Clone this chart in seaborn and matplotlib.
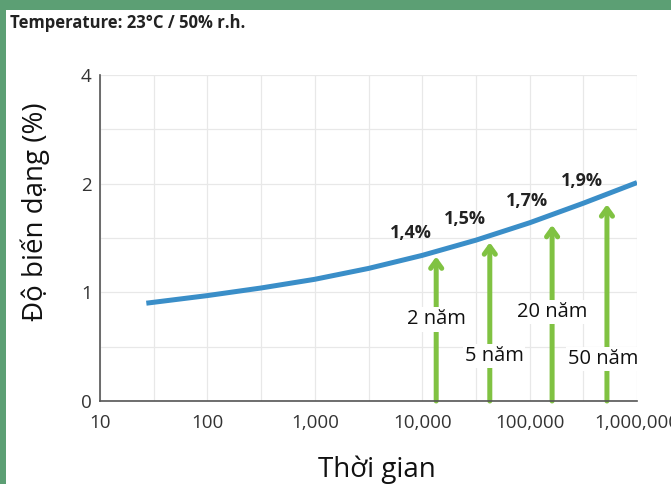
import numpy as np
import matplotlib
matplotlib.use('Agg')
import matplotlib.pyplot as plt
from matplotlib.patches import Rectangle
from matplotlib.ticker import FixedLocator, FuncFormatter
import seaborn as sns

# Du lieu doc tu hinh
thoi_gian = [27, 100, 316, 1000, 3162, 10000, 31623, 100000, 316228, 1000000]
bien_dang = [0.90, 0.97, 1.04, 1.12, 1.22, 1.34, 1.48, 1.64, 1.82, 2.02]

moc_gio = [13500, 42600, 162000, 525000]
moc_dinh = [1.33, 1.46, 1.62, 1.81]
moc_phantram = ['1,4%', '1,5%', '1,7%', '1,9%']
moc_nam = ['2 năm', '5 năm', '20 năm', '50 năm']

x_ticks = [10, 100, 1000, 10000, 100000, 1000000]
y_ticks = [0, 1, 2, 4]
y_minor = [0.5, 1.5, 3]

sns.set_style('white')
plt.rcParams['font.family'] = ['Open Sans', 'DejaVu Sans']
plt.rcParams['lines.solid_capstyle'] = 'butt'

xanh_la = '#80c242'
xanh_duong = '#3a8ec8'


def fwd(v):
    v = np.asarray(v, dtype=float)
    return np.where(v <= 2, v, 2 + (v - 2) / 2)


def inv(p):
    p = np.asarray(p, dtype=float)
    return np.where(p <= 2, p, 2 + (p - 2) * 2)


fig = plt.figure(figsize=(6.71, 4.84), dpi=100, facecolor='#5c9f74')
fig.add_artist(Rectangle((6 / 671, 0), 1, 1 - 10 / 484, transform=fig.transFigure,
                         facecolor='white', edgecolor='none', zorder=-1))
ax = fig.add_axes([100 / 671, 1 - 401 / 484, 537 / 671, 326 / 484])
ax.set_facecolor('none')

ax.set_xscale('log')
ax.set_yscale('function', functions=(fwd, inv))
ax.set_xlim(10, 1000000)
ax.set_ylim(0, 4)

sns.lineplot(x=thoi_gian, y=bien_dang, ax=ax, color=xanh_duong, lw=3.6, zorder=3)

for x, top, pct, nam, ny, dx in zip(moc_gio, moc_dinh, moc_phantram, moc_nam,
                                    [0.75, 0.41, 0.82, 0.39], [0, 3, 0, -3]):
    ax.annotate('', xy=(x, top), xytext=(x, 0),
                arrowprops=dict(arrowstyle='->,head_length=0.55,head_width=0.4',
                                color=xanh_la, lw=3.6, shrinkA=0, shrinkB=0),
                zorder=2, annotation_clip=False)
    ax.annotate(pct, xy=(x, top), xytext=(-18, 17), textcoords='offset points',
                ha='center', va='center', fontsize=13, fontweight='bold', color='#222222')
    ax.annotate(nam, xy=(x, ny), xytext=(dx, 0), textcoords='offset points',
                ha='center', va='center', fontsize=14.5, color='#111111', zorder=4,
                bbox=dict(boxstyle='square,pad=0.1', fc='white', ec='none'))

ax.xaxis.set_major_locator(FixedLocator(x_ticks))
ax.xaxis.set_minor_locator(FixedLocator([10 ** (k + 0.5) for k in range(1, 6)]))
ax.xaxis.set_major_formatter(FuncFormatter(lambda v, p: f'{int(v):,}'))
ax.xaxis.set_minor_formatter(FuncFormatter(lambda v, p: ''))
ax.yaxis.set_major_locator(FixedLocator(y_ticks))
ax.yaxis.set_minor_locator(FixedLocator(y_minor))
ax.yaxis.set_major_formatter(FuncFormatter(lambda v, p: f'{v:g}'))
ax.yaxis.set_minor_formatter(FuncFormatter(lambda v, p: ''))

ax.grid(True, which='both', color='#e8e8e8', lw=0.9, zorder=0)
ax.set_axisbelow(True)
for s in ['top', 'right']:
    ax.spines[s].set_visible(False)
for s in ['left', 'bottom']:
    ax.spines[s].set_color('#555555')
    ax.spines[s].set_linewidth(1.2)

ax.tick_params(axis='y', which='both', direction='in', length=9, width=1.2,
               color='#555555', labelsize=13.5, labelcolor='#333333', pad=6)
ax.tick_params(axis='x', which='both', direction='in', length=5, width=1.2,
               color='#555555', labelsize=13.5, labelcolor='#333333', pad=9)

ax.set_ylabel('Độ biến dạng (%)', fontsize=20, color='#111111')
ax.yaxis.set_label_coords(-0.093, 0.58)
ax.set_xlabel('Thời gian', fontsize=20, color='#111111')
ax.xaxis.set_label_coords(0.516, -0.168)

fig.text(10 / 671, 1 - 14 / 484, 'Temperature: 23°C / 50% r.h.', fontsize=12,
         fontweight='bold', color='#222222', ha='left', va='top')

fig.savefig('out.png', dpi=100, facecolor=fig.get_facecolor())
